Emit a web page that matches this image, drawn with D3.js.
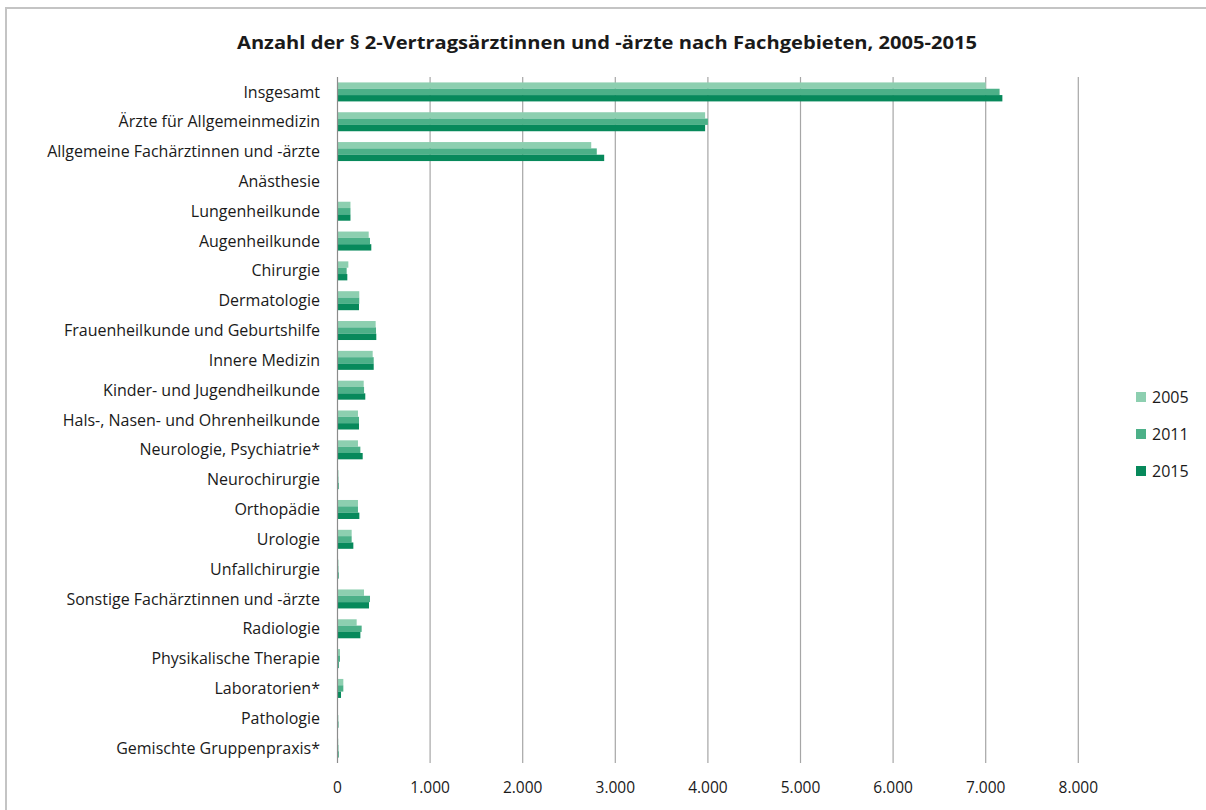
<!DOCTYPE html>
<html>
<head>
<meta charset="utf-8">
<script src="https://cdn.jsdelivr.net/npm/d3@7"></script>
<style>
  html, body { margin: 0; padding: 0; background: #fff; }
  svg { display: block; }
  text { font-family: "Open Sans", Lato, sans-serif; fill: #1a1a1a; }
</style>
</head>
<body>
<svg id="chart" width="1206" height="810"></svg>
<script>
// Fachgebiete (top to bottom)
const categories = [
  "Insgesamt",
  "Ärzte für Allgemeinmedizin",
  "Allgemeine Fachärztinnen und -ärzte",
  "Anästhesie",
  "Lungenheilkunde",
  "Augenheilkunde",
  "Chirurgie",
  "Dermatologie",
  "Frauenheilkunde und Geburtshilfe",
  "Innere Medizin",
  "Kinder- und Jugendheilkunde",
  "Hals-, Nasen- und Ohrenheilkunde",
  "Neurologie, Psychiatrie*",
  "Neurochirurgie",
  "Orthopädie",
  "Urologie",
  "Unfallchirurgie",
  "Sonstige Fachärztinnen und -ärzte",
  "Radiologie",
  "Physikalische Therapie",
  "Laboratorien*",
  "Pathologie",
  "Gemischte Gruppenpraxis*"
];

const years = ["2005", "2011", "2015"];

const values2005 = [7000, 3970, 2740, 0, 140, 337, 117, 235, 412, 380, 283, 221, 221, 10, 221, 153, 10, 286, 207, 27, 63, 5, 8];
const values2011 = [7150, 4000, 2800, 0, 140, 351, 99, 235, 416, 391, 287, 232, 247, 10, 221, 153, 10, 351, 261, 27, 63, 8, 10];
const values2015 = [7180, 3970, 2880, 0, 140, 365, 106, 232, 419, 391, 300, 232, 272, 12, 236, 171, 12, 340, 247, 13, 38, 10, 12];

const xTicks = [0, 1000, 2000, 3000, 4000, 5000, 6000, 7000, 8000];

const colors = ["#8dcfb0", "#4cb088", "#07895b"];

const seriesValues = [values2005, values2011, values2015];

const svg = d3.select("#chart");

// chart area frame (top and left edges visible)
svg.append("path")
  .attr("d", "M6,810 L6,8 L1206,8")
  .attr("fill", "none")
  .attr("stroke", "#c4c4c4")
  .attr("stroke-width", 2);

// title
svg.append("text")
  .attr("x", 607)
  .attr("y", 49)
  .attr("text-anchor", "middle")
  .attr("font-size", 18.5)
  .attr("font-weight", "bold")
  .attr("textLength", 740)
  .attr("lengthAdjust", "spacingAndGlyphs")
  .text("Anzahl der § 2-Vertragsärztinnen und -ärzte nach Fachgebieten, 2005-2015");

const plot = { left: 337.5, right: 1078.3, top: 77, bottom: 763 };

const x = d3.scaleLinear().domain([0, 8000]).range([plot.left, plot.right]);
const y = d3.scaleBand().domain(categories).range([plot.top, plot.bottom]).padding(0);
const ySub = d3.scaleBand().domain(years).range([0, y.bandwidth()]).paddingInner(0).paddingOuter(0.855);

// vertical gridlines
svg.append("g")
  .selectAll("line")
  .data(xTicks.filter(d => d > 0))
  .join("line")
  .attr("x1", d => x(d)).attr("x2", d => x(d))
  .attr("y1", plot.top).attr("y2", plot.bottom)
  .attr("stroke", "#a6a6a6")
  .attr("stroke-width", 1.2);

// bars
const groups = svg.append("g")
  .selectAll("g")
  .data(categories)
  .join("g")
  .attr("transform", d => `translate(0,${y(d)})`);

groups.selectAll("rect")
  .data((d, i) => years.map((yr, k) => ({ yr, k, v: seriesValues[k][i] })))
  .join("rect")
  .attr("x", x(0))
  .attr("y", d => ySub(d.yr))
  .attr("width", d => x(d.v) - x(0))
  .attr("height", ySub.bandwidth())
  .attr("fill", d => colors[d.k]);

// category axis line
svg.append("line")
  .attr("x1", x(0)).attr("x2", x(0))
  .attr("y1", plot.top).attr("y2", plot.bottom)
  .attr("stroke", "#8c8c8c")
  .attr("stroke-width", 1.2);

// category labels
svg.append("g")
  .selectAll("text")
  .data(categories)
  .join("text")
  .attr("x", 320)
  .attr("y", d => y(d) + y.bandwidth() / 2)
  .attr("dy", "0.35em")
  .attr("text-anchor", "end")
  .attr("font-size", 16)
  .text(d => d);

// value axis labels
const fmt = d3.formatLocale({ decimal: ",", thousands: ".", grouping: [3], currency: ["", "€"] }).format(",");
svg.append("g")
  .selectAll("text")
  .data(xTicks)
  .join("text")
  .attr("x", d => x(d))
  .attr("y", 788)
  .attr("dy", "0.35em")
  .attr("text-anchor", "middle")
  .attr("font-size", 15.5)
  .text(d => fmt(d));

// legend
const legend = svg.append("g")
  .selectAll("g")
  .data(years)
  .join("g")
  .attr("transform", (d, i) => `translate(1136,${397 + i * 37})`);

legend.append("rect")
  .attr("x", 0).attr("y", -5)
  .attr("width", 10).attr("height", 10)
  .attr("fill", (d, i) => colors[i]);

legend.append("text")
  .attr("x", 16)
  .attr("y", 0)
  .attr("dy", "0.35em")
  .attr("font-size", 16)
  .text(d => d);
</script>
</body>
</html>
